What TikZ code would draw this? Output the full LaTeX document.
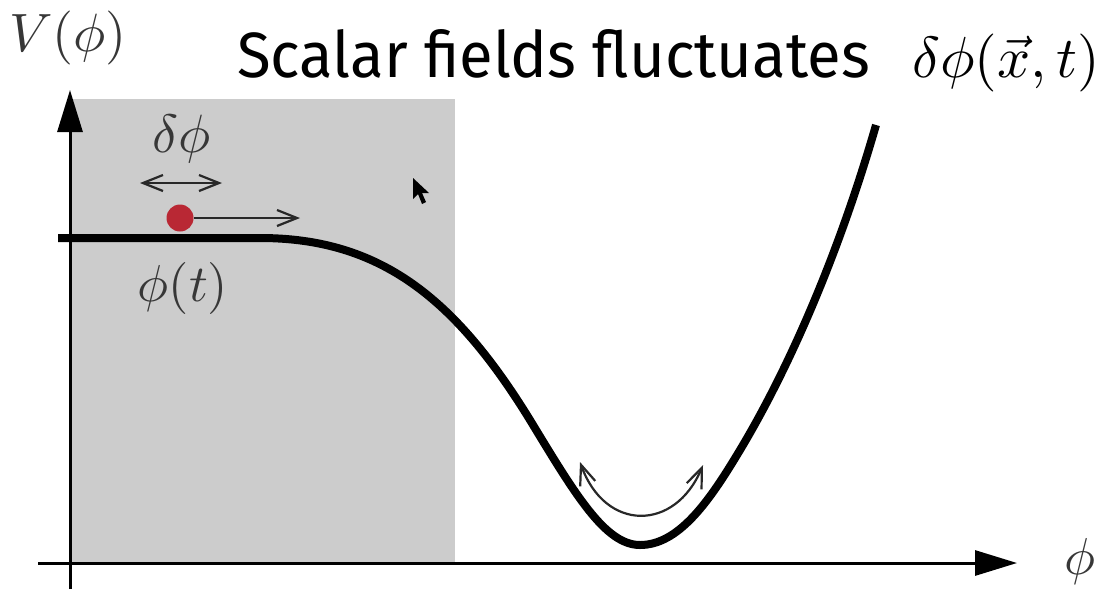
\documentclass[tikz,border=0pt]{standalone}
\usepackage{fontspec}
\setsansfont{Fira Sans}
\usetikzlibrary{arrows.meta}
\definecolor{ballred}{RGB}{185,40,52}
\definecolor{regiongray}{RGB}{204,204,204}
\definecolor{mathgray}{RGB}{55,55,55}
\definecolor{arrowgray}{RGB}{40,40,40}
\begin{document}
\begin{tikzpicture}[x=0.5pt,y=-0.5pt,
  >={Straight Barb[length=10pt,width=8pt]},
  axis/.style={line width=1.5pt, -{Triangle[length=21pt,width=12.5pt]}},
  pot/.style={line width=4pt},
  thinarrow/.style={line width=1.1pt, draw=arrowgray},
  mathlabel/.style={text=mathgray, inner sep=0pt},
]
\useasboundingbox (0,0) rectangle (1106,589);
% shaded region
\fill[regiongray] (72,99) rectangle (455,563);
% axes
\coordinate (yb) at (70,589);
\coordinate (yt) at (70,90);
\draw[axis] (yb) -- (yt);
\coordinate (xl) at (38,563);
\coordinate (xr) at (1017,563);
\draw[axis] (xl) -- (xr);
% potential
\draw[pot] (58,238) -- (260,238)
  .. controls (380,238) and (455,298) .. (530,420)
  .. controls (575,494) and (605,545) .. (640,545)
  .. controls (678,545) and (708,503) .. (737,455)
  .. controls (790,368) and (840,250) .. (876,125);
% ball and arrows
\node[circle, fill=ballred, minimum size=13.5pt, inner sep=0pt] (ball) at (180,218) {};
\coordinate (ballend) at (300,218);
\draw[thinarrow, ->] (ball.east) -- (ballend);
\coordinate (dl) at (140,183);
\coordinate (dr) at (222,183);
\draw[thinarrow, <->] (dl) -- (dr);
\coordinate (ml) at (580,462);
\coordinate (mr) at (703,465);
\draw[thinarrow, <->] (ml) .. controls (605,532) and (675,532) .. (mr);
% labels
\node[mathlabel] (Vlab) at (68,38) {\scalebox{2.7}{$V(\phi)$}};
\node[mathlabel] (dphilab) at (182,139) {\scalebox{2.7}{$\delta\phi$}};
\node[mathlabel] (philab) at (183,288) {\scalebox{2.6}{$\phi(t)$}};
\node[mathlabel] (phiax) at (1080,561) {\scalebox{2.6}{$\phi$}};
\node[text=black, inner sep=0pt] (dphix) at (1006,63) {\scalebox{2.9}{$\delta\phi(\vec{x},t)$}};
\node[anchor=base west, inner sep=0pt, font=\sffamily\fontsize{32}{36}\selectfont] (title) at (237,77) {\scalebox{0.963}[1]{Scalar fields fluctuates}};
% mouse pointer
\fill[black] (413,178) -- (413,199) -- (418,194) -- (422,204) -- (426,202) -- (422,193) -- (429,193) -- cycle;
\end{tikzpicture}
\end{document}
